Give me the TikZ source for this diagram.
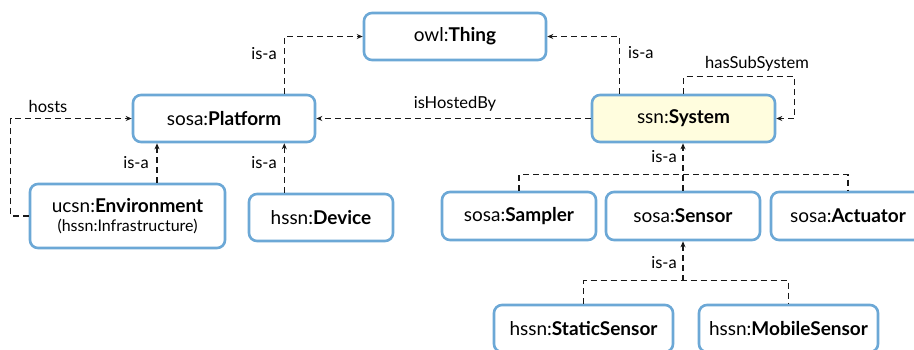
\documentclass[tikz,border=0pt]{standalone}
\usepackage{fontspec}
\setmainfont{Lato}
\usetikzlibrary{arrows.meta}
\definecolor{boxblue}{RGB}{108,168,214}
\definecolor{sysfill}{RGB}{255,253,222}
\tikzset{
  cls/.style={draw=boxblue, line width=2.6pt, rounded corners=8pt, fill=white,
    minimum width=182pt, minimum height=47pt, inner sep=0pt, align=center, font=\fontsize{19}{21}\selectfont},
  rel/.style={line width=1.4pt, dash pattern=on 6pt off 4pt, black!90},
  arr/.style={rel, -{Stealth[length=6pt,width=5pt]}},
  lbl/.style={font=\fontsize{16.5}{18}\selectfont, inner sep=0pt}
}
\begin{document}
\begin{tikzpicture}[x=1pt,y=-1pt]
\useasboundingbox (0,0) rectangle (914,349);
\clip (0,0) rectangle (914,349);
\fill[white] (0,0) rectangle (914,349);
% nodes
\node[cls] (thing) at (455,36.5) {owl:\textbf{Thing}};
\node[cls] (plat) at (224,118.5) {sosa:\textbf{Platform}};
\node[cls, fill=sysfill, minimum width=183pt] (sys) at (683.5,118.5) {ssn:\textbf{System}};
\node[cls, minimum width=195pt, minimum height=64pt] (env) at (127.5,216) {ucsn:\textbf{Environment}\\[-2pt]{\fontsize{16}{18}\selectfont(hssn:Infrastructure)}};
\node[cls, minimum width=144pt] (dev) at (321,217.5) {hssn:\textbf{Device}};
\node[cls, minimum width=154pt, minimum height=48pt] (samp) at (519,216) {sosa:\textbf{Sampler}};
\node[cls, minimum width=154pt, minimum height=48pt] (sens) at (683,216) {sosa:\textbf{Sensor}};
\node[cls, minimum width=154pt, minimum height=48pt] (act) at (848,216) {sosa:\textbf{Actuator}};
\node[cls, minimum width=179pt] (stat) at (583.5,328.5) {hssn:\textbf{StaticSensor}};
\node[cls, minimum width=179pt] (mob) at (788.5,328.5) {hssn:\textbf{MobileSensor}};
% helper coordinates
\coordinate (pd) at ([xshift=-32pt]plat.south east);
\coordinate (pt) at ([xshift=-32pt]plat.north east);
\coordinate (pe) at ([xshift=29.5pt]env.north);
% connectors
\draw[arr] (pt) |- (thing.west);
\draw[arr] ([xshift=29pt]sys.north west) |- (thing.east);
\draw[arr] (sys.north) -- ++(0,-17) -| ([xshift=18pt]sys.east) -- (sys.east);
\draw[arr] (sys.west) -- (plat.east);
\draw[arr] (env.west) -- ++(-18,0) |- (plat.west);
\draw[arr] (pe) -- (pe |- plat.south);
\draw[arr] (pd |- dev.north) -- (pd);
\draw[rel] (samp.north) -- ++(0,-16) -| (act.north);
\draw[arr] (sens.north) -- (sens.north |- sys.south);
\draw[rel] (stat.north) -- ++(0,-23) -| (mob.north);
\draw[arr] ([yshift=23pt]stat.north -| sens.south) -- (sens.south);
% labels
\node[lbl, anchor=east] (l1) at (277,54) {is-a};
\node[lbl, anchor=west] (l2) at (628,53) {is-a};
\node[lbl] (l3) at (757,64) {hasSubSystem};
\node[lbl] (l4) at (455,104) {isHostedBy};
\node[lbl] (l5) at (48,106) {hosts};
\node[lbl, anchor=east] (l6) at (149,163) {is-a};
\node[lbl, anchor=east] (l7) at (277,163) {is-a};
\node[lbl, anchor=east] (l8) at (677,157) {is-a};
\node[lbl, anchor=east] (l9) at (677,263) {is-a};
\end{tikzpicture}
\end{document}
